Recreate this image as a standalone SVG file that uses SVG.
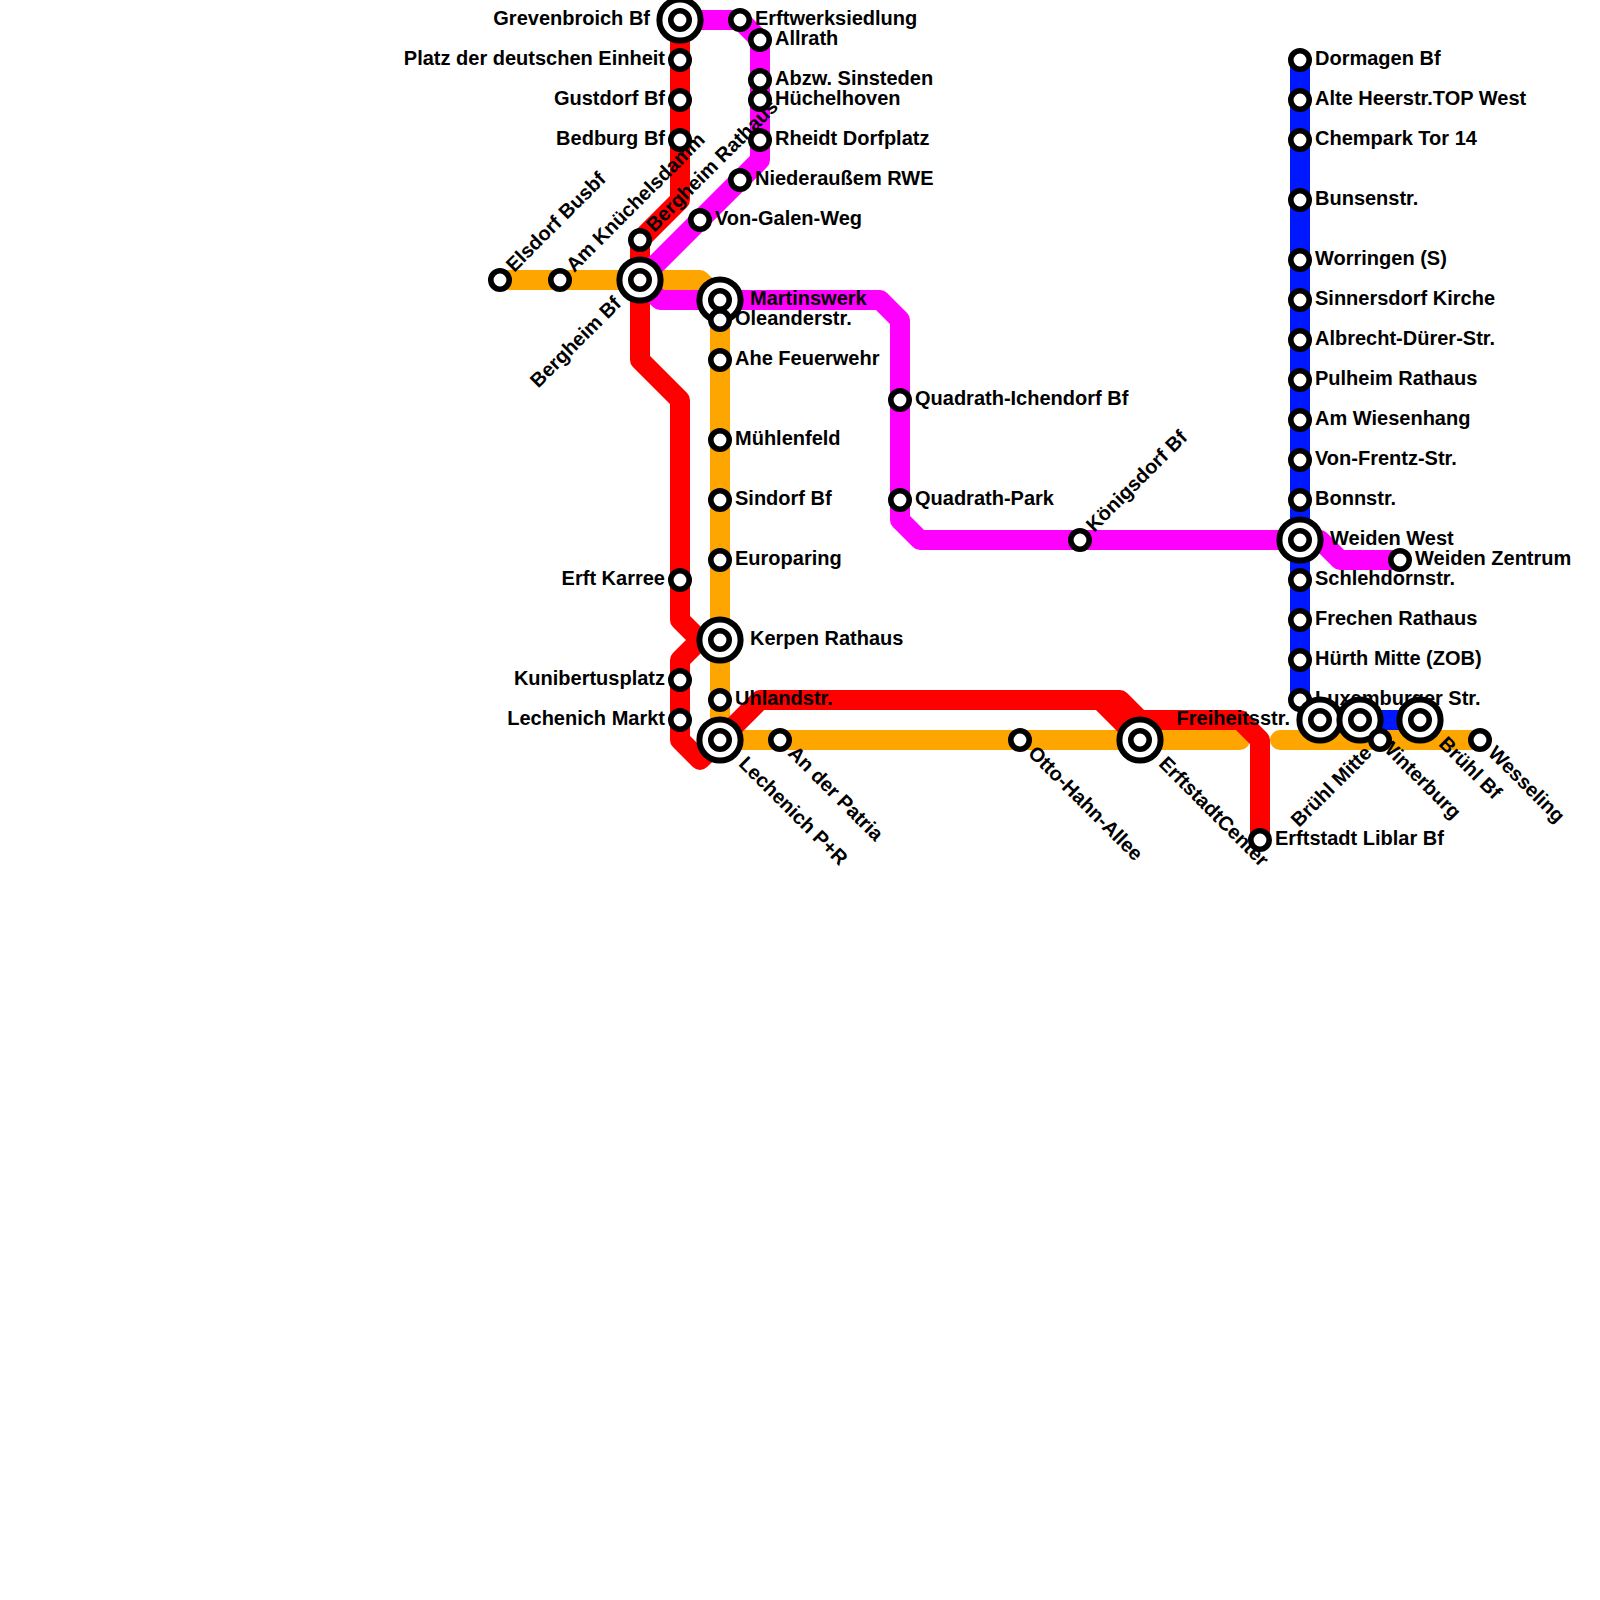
<svg xmlns="http://www.w3.org/2000/svg" width="1600" height="1600" viewBox="0 0 1600 1600">
<style>
.l{fill:none;stroke-width:20;stroke-linecap:round;stroke-linejoin:round}
.o{stroke:#ffa500}.r{stroke:#ff0000}.m{stroke:#ff00ff}.b{stroke:#0018ff}
circle{fill:#fff;stroke:#000;stroke-width:5.6}
.s{r:9.2px}.i{r:20.6px;stroke-width:6px}
text{font-family:"Liberation Sans",Arial,sans-serif;font-weight:bold;font-size:20px;fill:#000}
.e{text-anchor:end}
</style>
<rect width="1600" height="1600" fill="#fff"/>
<g id="connectors">
<path class="l o" d="M500 280H700L720 300V740H1240M1280 740H1480"/>
<path class="l r" d="M680 20V200L640 240V360L680 400V620L700 640H720M700 640L680 660V740L700 760L760 700H1120L1140 720H1240L1260 740V840M1100 700L1140 740"/>
<path class="l m" d="M680 20H740L760 40V160L640 280L660 300H880L900 320V520L920 540H1320L1340 560H1400"/>
<path class="l b" d="M1300 60V700L1320 720H1420"/>
</g>
<g id="n1"><circle class="i" cx="680" cy="20"/><circle class="s" cx="680" cy="20"/><text class="e" x="650" y="25">Grevenbroich Bf</text></g>
<g id="n2"><circle class="s" cx="680" cy="60"/><text class="e" x="665" y="65">Platz der deutschen Einheit</text></g>
<g id="n3"><circle class="s" cx="680" cy="100"/><text class="e" x="665" y="105">Gustdorf Bf</text></g>
<g id="n4"><circle class="s" cx="680" cy="140"/><text class="e" x="665" y="145">Bedburg Bf</text></g>
<g id="n5"><circle class="s" cx="740" cy="20"/><text x="755" y="25">Erftwerksiedlung</text></g>
<g id="n6"><circle class="s" cx="760" cy="40"/><text x="775" y="45">Allrath</text></g>
<g id="n7"><circle class="s" cx="760" cy="80"/><text x="775" y="85">Abzw. Sinsteden</text></g>
<g id="n8"><circle class="s" cx="760" cy="100"/><text x="775" y="105">Hüchelhoven</text></g>
<g id="n9"><circle class="s" cx="760" cy="140"/><text x="775" y="145">Rheidt Dorfplatz</text></g>
<g id="n10"><circle class="s" cx="740" cy="180"/><text x="755" y="185">Niederaußem RWE</text></g>
<g id="n11"><circle class="s" cx="700" cy="220"/><text x="715" y="225">Von-Galen-Weg</text></g>
<g id="n12"><circle class="s" cx="640" cy="240"/><text transform="translate(640 240) rotate(-45)" x="15" y="5">Bergheim Rathaus</text></g>
<g id="n13"><circle class="s" cx="500" cy="280"/><text transform="translate(500 280) rotate(-45)" x="15" y="5">Elsdorf Busbf</text></g>
<g id="n14"><circle class="s" cx="560" cy="280"/><text transform="translate(560 280) rotate(-45)" x="15" y="5">Am Knüchelsdamm</text></g>
<g id="n15"><circle class="i" cx="640" cy="280"/><circle class="s" cx="640" cy="280"/><text class="e" transform="translate(640 280) rotate(-45)" x="-30" y="5">Bergheim Bf</text></g>
<g id="n16"><circle class="i" cx="720" cy="300"/><circle class="s" cx="720" cy="300"/><text x="750" y="305">Martinswerk</text></g>
<g id="n17"><circle class="s" cx="720" cy="320"/><text x="735" y="325">Oleanderstr.</text></g>
<g id="n18"><circle class="s" cx="720" cy="360"/><text x="735" y="365">Ahe Feuerwehr</text></g>
<g id="n19"><circle class="s" cx="720" cy="440"/><text x="735" y="445">Mühlenfeld</text></g>
<g id="n20"><circle class="s" cx="720" cy="500"/><text x="735" y="505">Sindorf Bf</text></g>
<g id="n21"><circle class="s" cx="720" cy="560"/><text x="735" y="565">Europaring</text></g>
<g id="n22"><circle class="i" cx="720" cy="640"/><circle class="s" cx="720" cy="640"/><text x="750" y="645">Kerpen Rathaus</text></g>
<g id="n23"><circle class="s" cx="720" cy="700"/><text x="735" y="705">Uhlandstr.</text></g>
<g id="n24"><circle class="i" cx="720" cy="740"/><circle class="s" cx="720" cy="740"/><text transform="translate(720 740) rotate(45)" x="30" y="5">Lechenich P+R</text></g>
<g id="n25"><circle class="s" cx="780" cy="740"/><text transform="translate(780 740) rotate(45)" x="15" y="5">An der Patria</text></g>
<g id="n26"><circle class="s" cx="1020" cy="740"/><text transform="translate(1020 740) rotate(45)" x="15" y="5">Otto-Hahn-Allee</text></g>
<g id="n27"><circle class="i" cx="1140" cy="740"/><circle class="s" cx="1140" cy="740"/><text transform="translate(1140 740) rotate(45)" x="30" y="5">ErftstadtCenter</text></g>
<g id="n28"><circle class="s" cx="1260" cy="840"/><text x="1275" y="845">Erftstadt Liblar Bf</text></g>
<g id="n29"><circle class="s" cx="680" cy="580"/><text class="e" x="665" y="585">Erft Karree</text></g>
<g id="n30"><circle class="s" cx="680" cy="680"/><text class="e" x="665" y="685">Kunibertusplatz</text></g>
<g id="n31"><circle class="s" cx="680" cy="720"/><text class="e" x="665" y="725">Lechenich Markt</text></g>
<g id="n32"><circle class="s" cx="900" cy="400"/><text x="915" y="405">Quadrath-Ichendorf Bf</text></g>
<g id="n33"><circle class="s" cx="900" cy="500"/><text x="915" y="505">Quadrath-Park</text></g>
<g id="n34"><circle class="s" cx="1080" cy="540"/><text transform="translate(1080 540) rotate(-45)" x="15" y="5">Königsdorf Bf</text></g>
<g id="n35"><circle class="s" cx="1400" cy="560"/><text x="1415" y="565">Weiden Zentrum</text></g>
<g id="n36"><circle class="s" cx="1300" cy="60"/><text x="1315" y="65">Dormagen Bf</text></g>
<g id="n37"><circle class="s" cx="1300" cy="100"/><text x="1315" y="105">Alte Heerstr.TOP West</text></g>
<g id="n38"><circle class="s" cx="1300" cy="140"/><text x="1315" y="145">Chempark Tor 14</text></g>
<g id="n39"><circle class="s" cx="1300" cy="200"/><text x="1315" y="205">Bunsenstr.</text></g>
<g id="n40"><circle class="s" cx="1300" cy="260"/><text x="1315" y="265">Worringen (S)</text></g>
<g id="n41"><circle class="s" cx="1300" cy="300"/><text x="1315" y="305">Sinnersdorf Kirche</text></g>
<g id="n42"><circle class="s" cx="1300" cy="340"/><text x="1315" y="345">Albrecht-Dürer-Str.</text></g>
<g id="n43"><circle class="s" cx="1300" cy="380"/><text x="1315" y="385">Pulheim Rathaus</text></g>
<g id="n44"><circle class="s" cx="1300" cy="420"/><text x="1315" y="425">Am Wiesenhang</text></g>
<g id="n45"><circle class="s" cx="1300" cy="460"/><text x="1315" y="465">Von-Frentz-Str.</text></g>
<g id="n46"><circle class="s" cx="1300" cy="500"/><text x="1315" y="505">Bonnstr.</text></g>
<g id="n47"><circle class="i" cx="1300" cy="540"/><circle class="s" cx="1300" cy="540"/><text x="1330" y="545">Weiden West</text></g>
<g id="n48"><circle class="s" cx="1300" cy="580"/><text x="1315" y="585">Schlehdornstr.</text></g>
<g id="n49"><circle class="s" cx="1300" cy="620"/><text x="1315" y="625">Frechen Rathaus</text></g>
<g id="n50"><circle class="s" cx="1300" cy="660"/><text x="1315" y="665">Hürth Mitte (ZOB)</text></g>
<g id="n51"><circle class="s" cx="1300" cy="700"/><text x="1315" y="705">Luxemburger Str.</text></g>
<g id="n52"><circle class="i" cx="1320" cy="720"/><circle class="s" cx="1320" cy="720"/><text class="e" x="1290" y="725">Freiheitsstr.</text></g>
<g id="n53"><circle class="i" cx="1360" cy="720"/><circle class="s" cx="1360" cy="720"/><text transform="translate(1360 720) rotate(45)" x="30" y="5">Winterburg</text></g>
<g id="n54"><circle class="s" cx="1380" cy="740"/><text class="e" transform="translate(1380 740) rotate(-45)" x="-15" y="5">Brühl Mitte</text></g>
<g id="n55"><circle class="i" cx="1420" cy="720"/><circle class="s" cx="1420" cy="720"/><text transform="translate(1420 720) rotate(45)" x="30" y="5">Brühl Bf</text></g>
<g id="n56"><circle class="s" cx="1480" cy="740"/><text transform="translate(1480 740) rotate(45)" x="15" y="5">Wesseling</text></g>
</svg>
